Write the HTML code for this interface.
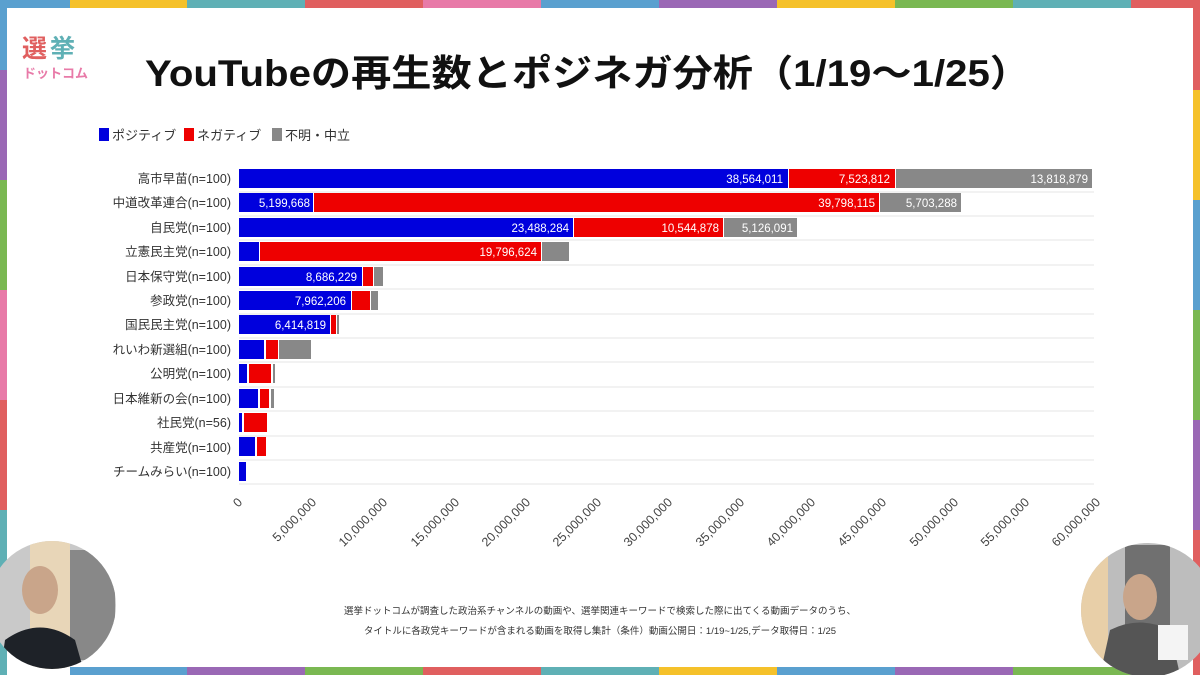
<!DOCTYPE html>
<html><head><meta charset="utf-8"><style>
html,body{margin:0;padding:0;background:#fff;}
body{width:1200px;height:675px;overflow:hidden;font-family:"Liberation Sans","Noto Sans CJK JP",sans-serif;}
</style></head><body>
<svg width="1200" height="675" xmlns="http://www.w3.org/2000/svg" font-family="Liberation Sans, Noto Sans CJK JP, sans-serif">
<rect width="1200" height="675" fill="#fff"/>
<g>
<rect x="0" y="0" width="70" height="8" fill="#5aa0cf"/>
<rect x="70" y="0" width="117" height="8" fill="#f5c12a"/>
<rect x="187" y="0" width="118" height="8" fill="#5fb0b5"/>
<rect x="305" y="0" width="118" height="8" fill="#e05f5f"/>
<rect x="423" y="0" width="118" height="8" fill="#e87aa8"/>
<rect x="541" y="0" width="118" height="8" fill="#5aa0cf"/>
<rect x="659" y="0" width="118" height="8" fill="#9a68b5"/>
<rect x="777" y="0" width="118" height="8" fill="#f5c12a"/>
<rect x="895" y="0" width="118" height="8" fill="#7ab852"/>
<rect x="1013" y="0" width="118" height="8" fill="#5fb0b5"/>
<rect x="1131" y="0" width="69" height="8" fill="#e05f5f"/>
<rect x="0" y="0" width="7" height="70" fill="#5aa0cf"/>
<rect x="0" y="70" width="7" height="110" fill="#9a68b5"/>
<rect x="0" y="180" width="7" height="110" fill="#7ab852"/>
<rect x="0" y="290" width="7" height="110" fill="#e87aa8"/>
<rect x="0" y="400" width="7" height="110" fill="#e05f5f"/>
<rect x="0" y="510" width="7" height="165" fill="#5fb0b5"/>
<rect x="1193" y="0" width="7" height="90" fill="#e05f5f"/>
<rect x="1193" y="90" width="7" height="110" fill="#f5c12a"/>
<rect x="1193" y="200" width="7" height="110" fill="#5aa0cf"/>
<rect x="1193" y="310" width="7" height="110" fill="#7ab852"/>
<rect x="1193" y="420" width="7" height="110" fill="#9a68b5"/>
<rect x="1193" y="530" width="7" height="145" fill="#e05f5f"/>
<rect x="70" y="667" width="117" height="8" fill="#5aa0cf"/>
<rect x="187" y="667" width="118" height="8" fill="#9a68b5"/>
<rect x="305" y="667" width="118" height="8" fill="#7ab852"/>
<rect x="423" y="667" width="118" height="8" fill="#e05f5f"/>
<rect x="541" y="667" width="118" height="8" fill="#5fb0b5"/>
<rect x="659" y="667" width="118" height="8" fill="#f5c12a"/>
<rect x="777" y="667" width="118" height="8" fill="#5aa0cf"/>
<rect x="895" y="667" width="118" height="8" fill="#9a68b5"/>
<rect x="1013" y="667" width="118" height="8" fill="#7ab852"/>
</g>
<text x="22" y="57" font-size="25" font-weight="bold" fill="#e05f5f">選</text>
<text x="50" y="57" font-size="25" font-weight="bold" fill="#5fb0b5">挙</text>
<text x="23" y="78" font-size="13" font-weight="bold" fill="#e87aa8">ドットコム</text>
<text x="145" y="86" font-size="37" font-weight="bold" fill="#111" textLength="885" lengthAdjust="spacingAndGlyphs">YouTubeの再生数とポジネガ分析（1/19～1/25）</text>
<rect x="99" y="128" width="10" height="13" fill="#0000dd"/>
<text x="112" y="140" font-size="13" fill="#333">ポジティブ</text>
<rect x="184" y="128" width="10" height="13" fill="#ee0000"/>
<text x="197" y="140" font-size="13" fill="#333">ネガティブ</text>
<rect x="272" y="128" width="10" height="13" fill="#888"/>
<text x="285" y="140" font-size="13" fill="#333">不明・中立</text>
<g stroke="#e6e6e6" stroke-width="1">
<line x1="239" x2="1094" y1="192" y2="192"/><line x1="239" x2="1094" y1="216" y2="216"/>
<line x1="239" x2="1094" y1="240" y2="240"/><line x1="239" x2="1094" y1="265" y2="265"/>
<line x1="239" x2="1094" y1="289" y2="289"/><line x1="239" x2="1094" y1="314" y2="314"/>
<line x1="239" x2="1094" y1="338" y2="338"/><line x1="239" x2="1094" y1="362" y2="362"/>
<line x1="239" x2="1094" y1="387" y2="387"/><line x1="239" x2="1094" y1="411" y2="411"/>
<line x1="239" x2="1094" y1="436" y2="436"/><line x1="239" x2="1094" y1="460" y2="460"/>
<line x1="239" x2="1094" y1="484" y2="484"/>
</g>
<g font-size="12.5" fill="#333" text-anchor="end">
<text x="231" y="183">高市早苗(n=100)</text>
<text x="231" y="207">中道改革連合(n=100)</text>
<text x="231" y="232">自民党(n=100)</text>
<text x="231" y="256">立憲民主党(n=100)</text>
<text x="231" y="281">日本保守党(n=100)</text>
<text x="231" y="305">参政党(n=100)</text>
<text x="231" y="329">国民民主党(n=100)</text>
<text x="231" y="354">れいわ新選組(n=100)</text>
<text x="231" y="378">公明党(n=100)</text>
<text x="231" y="403">日本維新の会(n=100)</text>
<text x="231" y="427">社民党(n=56)</text>
<text x="231" y="452">共産党(n=100)</text>
<text x="231" y="476">チームみらい(n=100)</text>
</g>
<g>
<rect x="239" y="169" width="549" height="19" fill="#0000dd"/><rect x="789" y="169" width="106" height="19" fill="#ee0000"/><rect x="896" y="169" width="196" height="19" fill="#888"/>
<rect x="239" y="193" width="74" height="19" fill="#0000dd"/><rect x="314" y="193" width="565" height="19" fill="#ee0000"/><rect x="880" y="193" width="81" height="19" fill="#888"/>
<rect x="239" y="218" width="334" height="19" fill="#0000dd"/><rect x="574" y="218" width="149" height="19" fill="#ee0000"/><rect x="724" y="218" width="73" height="19" fill="#888"/>
<rect x="239" y="242" width="20" height="19" fill="#0000dd"/><rect x="260" y="242" width="281" height="19" fill="#ee0000"/><rect x="542" y="242" width="27" height="19" fill="#888"/>
<rect x="239" y="267" width="123" height="19" fill="#0000dd"/><rect x="363" y="267" width="10" height="19" fill="#ee0000"/><rect x="374" y="267" width="9" height="19" fill="#888"/>
<rect x="239" y="291" width="112" height="19" fill="#0000dd"/><rect x="352" y="291" width="18" height="19" fill="#ee0000"/><rect x="371" y="291" width="7" height="19" fill="#888"/>
<rect x="239" y="315" width="91" height="19" fill="#0000dd"/><rect x="331" y="315" width="5" height="19" fill="#ee0000"/><rect x="337" y="315" width="2" height="19" fill="#888"/>
<rect x="239" y="340" width="25" height="19" fill="#0000dd"/><rect x="266" y="340" width="12" height="19" fill="#ee0000"/><rect x="279" y="340" width="32" height="19" fill="#888"/>
<rect x="239" y="364" width="8" height="19" fill="#0000dd"/><rect x="249" y="364" width="22" height="19" fill="#ee0000"/><rect x="273" y="364" width="2" height="19" fill="#888"/>
<rect x="239" y="389" width="19" height="19" fill="#0000dd"/><rect x="260" y="389" width="9" height="19" fill="#ee0000"/><rect x="271" y="389" width="3" height="19" fill="#888"/>
<rect x="239" y="413" width="3" height="19" fill="#0000dd"/><rect x="244" y="413" width="23" height="19" fill="#ee0000"/>
<rect x="239" y="437" width="16" height="19" fill="#0000dd"/><rect x="257" y="437" width="9" height="19" fill="#ee0000"/>
<rect x="239" y="462" width="7" height="19" fill="#0000dd"/>
</g>
<g font-size="11.5" fill="#fff" text-anchor="end">
<text x="783" y="183">38,564,011</text><text x="890" y="183">7,523,812</text><text x="1088" y="183">13,818,879</text>
<text x="310" y="207">5,199,668</text><text x="875" y="207">39,798,115</text><text x="957" y="207">5,703,288</text>
<text x="569" y="232">23,488,284</text><text x="719" y="232">10,544,878</text><text x="793" y="232">5,126,091</text>
<text x="537" y="256">19,796,624</text>
<text x="357" y="281">8,686,229</text>
<text x="346" y="305">7,962,206</text>
<text x="326" y="329">6,414,819</text>
</g>
<g font-size="12.5" fill="#444" text-anchor="end">
<text transform="translate(243,503) rotate(-45)">0</text>
<text transform="translate(317,503) rotate(-45)">5,000,000</text>
<text transform="translate(388,503) rotate(-45)">10,000,000</text>
<text transform="translate(460,503) rotate(-45)">15,000,000</text>
<text transform="translate(531,503) rotate(-45)">20,000,000</text>
<text transform="translate(602,503) rotate(-45)">25,000,000</text>
<text transform="translate(673,503) rotate(-45)">30,000,000</text>
<text transform="translate(745,503) rotate(-45)">35,000,000</text>
<text transform="translate(816,503) rotate(-45)">40,000,000</text>
<text transform="translate(887,503) rotate(-45)">45,000,000</text>
<text transform="translate(959,503) rotate(-45)">50,000,000</text>
<text transform="translate(1030,503) rotate(-45)">55,000,000</text>
<text transform="translate(1101,503) rotate(-45)">60,000,000</text>
</g>
<g font-size="9.5" fill="#333" text-anchor="middle">
<text x="600" y="614">選挙ドットコムが調査した政治系チャンネルの動画や、選挙関連キーワードで検索した際に出てくる動画データのうち、</text>
<text x="600" y="634">タイトルに各政党キーワードが含まれる動画を取得し集計（条件）動画公開日：1/19~1/25,データ取得日：1/25</text>
</g>
<defs>
<clipPath id="c1"><circle cx="52" cy="605" r="64"/></clipPath>
<clipPath id="c2"><circle cx="1148" cy="610" r="67"/></clipPath>
</defs>
<g clip-path="url(#c1)">
<rect x="-20" y="535" width="150" height="140" fill="#c9c9c9"/>
<rect x="30" y="535" width="40" height="140" fill="#e8d6b8"/>
<rect x="70" y="550" width="45" height="110" fill="#888"/>
<ellipse cx="40" cy="590" rx="18" ry="24" fill="#c9a58a"/>
<path d="M0 675 L5 640 Q40 615 75 640 L85 675 Z" fill="#1e2228"/>
</g>
<g clip-path="url(#c2)">
<rect x="1078" y="540" width="140" height="140" fill="#bdbdbd"/>
<rect x="1078" y="540" width="30" height="140" fill="#e8cfa8"/>
<rect x="1125" y="545" width="45" height="80" fill="#707070"/>
<ellipse cx="1140" cy="597" rx="17" ry="23" fill="#c9a58a"/>
<path d="M1100 675 L1110 630 Q1140 615 1170 630 L1180 675 Z" fill="#555"/>
<rect x="1158" y="625" width="30" height="35" fill="#f4f4f4"/>
</g>
</svg>
</body></html>
